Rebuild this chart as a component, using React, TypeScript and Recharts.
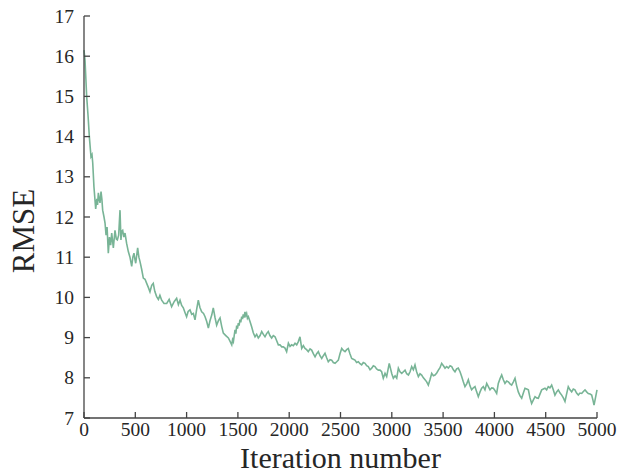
import React from 'react';
import { LineChart, Line, XAxis, YAxis } from 'recharts';

const iterations = [
  0, 10, 26, 40, 52, 68, 78, 85, 97, 114, 125, 132, 140, 148, 156, 166, 174, 182, 195, 205,
  215, 225, 237, 248, 260, 270, 286, 302, 315, 325, 338, 351, 360, 368, 377, 388, 400, 415, 432, 448,
  465, 476, 487, 496, 504, 514, 523, 535, 546, 562, 578, 595, 611, 627, 643, 660, 675, 690, 708, 725,
  740, 757, 780, 806, 830, 854, 880, 903, 920, 936, 952, 968, 985, 1000, 1015, 1033, 1050, 1066, 1082, 1098,
  1114, 1130, 1147, 1165, 1180, 1196, 1212, 1228, 1245, 1260, 1277, 1293, 1310, 1326, 1342, 1358, 1382, 1407, 1425, 1440,
  1448, 1456, 1464, 1472, 1480, 1488, 1496, 1504, 1512, 1520, 1528, 1537, 1545, 1552, 1560, 1569, 1577, 1585, 1593, 1602,
  1618, 1634, 1650, 1667, 1683, 1699, 1716, 1732, 1748, 1764,
  1780, 1796, 1812, 1829, 1845, 1862, 1878, 1894, 1910, 1927, 1943, 1959, 1975, 1992, 2008, 2024, 2040, 2057, 2073, 2089,
  2105, 2122, 2138, 2154, 2170, 2186, 2203, 2219, 2235, 2252, 2268, 2284, 2300, 2317, 2333, 2349, 2365, 2381, 2398, 2414,
  2430, 2447, 2463, 2479, 2495, 2512, 2528, 2544, 2560, 2576, 2592, 2609, 2625, 2641, 2657, 2674, 2690, 2706, 2722, 2739,
  2755, 2771, 2788, 2804, 2820, 2836, 2852, 2869, 2885, 2901, 2917, 2934, 2950, 2975, 3000, 3015, 3032, 3048, 3064, 3080,
  3097, 3113, 3129, 3145, 3162, 3178, 3194, 3210, 3226, 3242, 3259, 3275, 3291, 3308, 3324, 3340, 3356, 3372, 3389, 3405,
  3421, 3438, 3454, 3470, 3486, 3503, 3519, 3535, 3551, 3568, 3584, 3600, 3616, 3632, 3648, 3665, 3681, 3697, 3713, 3730,
  3746, 3762, 3778, 3795, 3811, 3827, 3843, 3860, 3876, 3892, 3908, 3925, 3941, 3957, 3974, 3990, 4006, 4022, 4038, 4055,
  4071, 4087, 4103, 4120, 4136, 4152, 4168, 4185, 4201, 4217, 4233, 4250, 4266, 4282, 4298, 4315, 4331, 4347, 4363, 4380,
  4396, 4412, 4428, 4445, 4461, 4477, 4493, 4509, 4525, 4541, 4558, 4574, 4590, 4607, 4623, 4640, 4656, 4672, 4688, 4704,
  4720, 4737, 4753, 4769, 4785, 4801, 4818, 4834, 4851, 4867, 4883, 4899, 4915, 4932, 4948, 4960, 4971, 4985, 5000,
];

const rmse = [
  16.15, 15.9, 15.0, 14.5, 14.0, 13.5, 13.55, 13.35, 12.75, 12.2, 12.45, 12.3, 12.6, 12.45, 12.35, 12.63, 12.45, 12.17, 12.0, 11.85,
  11.55, 11.75, 11.1, 11.5, 11.3, 11.6, 11.23, 11.67, 11.45, 11.43, 11.55, 12.17, 11.43, 11.65, 11.67, 11.5, 11.6, 11.35, 11.14, 11.0,
  10.77, 11.0, 11.1, 10.95, 10.85, 11.05, 11.23, 11.0, 10.89, 10.7, 10.48, 10.45, 10.35, 10.25, 10.14, 10.3, 10.35, 10.15, 10.02, 9.95,
  10.05, 9.93, 9.85, 9.85, 9.95, 9.77, 9.9, 9.98, 9.82, 9.93, 9.8, 9.74, 9.62, 9.52, 9.65, 9.69, 9.58, 9.6, 9.44, 9.7,
  9.93, 9.75, 9.64, 9.6, 9.52, 9.4, 9.24, 9.42, 9.56, 9.74, 9.5, 9.31, 9.42, 9.49, 9.28, 9.11, 9.05, 8.99, 8.9, 8.82,
  8.95, 8.9, 9.05, 9.19, 9.1, 9.3, 9.22, 9.36, 9.3, 9.45, 9.38, 9.52, 9.46, 9.58, 9.5, 9.64, 9.55, 9.6, 9.48, 9.52,
  9.4, 9.27, 9.12, 9.02, 9.08, 8.99, 9.05, 9.15, 9.08, 9.02,
  9.1, 9.15, 9.05, 8.99, 9.05, 9.02, 8.92, 8.82, 8.82, 8.77, 8.77, 8.74, 8.65, 8.86, 8.78, 8.82, 8.8, 8.86, 8.82, 8.9,
  9.02, 8.73, 8.8, 8.73, 8.7, 8.65, 8.72, 8.69, 8.6, 8.52, 8.6, 8.65, 8.55, 8.48, 8.55, 8.61, 8.5, 8.4, 8.45, 8.44,
  8.38, 8.36, 8.4, 8.44, 8.6, 8.73, 8.68, 8.65, 8.7, 8.73, 8.6, 8.48, 8.46, 8.44, 8.38, 8.4, 8.35, 8.32, 8.38, 8.36,
  8.3, 8.28, 8.2, 8.24, 8.3, 8.28, 8.22, 8.19, 8.19, 8.15, 7.99, 8.11, 8.03, 8.36, 8.1, 7.99, 8.05, 7.99, 8.24, 8.15,
  8.11, 8.15, 8.19, 8.1, 8.07, 8.15, 8.28, 8.2, 8.32, 8.15, 8.03, 8.1, 8.07, 8.0, 7.95, 7.9, 7.82, 7.95, 8.11, 8.05,
  8.07, 8.12, 8.19, 8.25, 8.36, 8.3, 8.24, 8.28, 8.24, 8.3, 8.28, 8.2, 8.15, 8.22, 8.24, 8.15, 8.03, 7.9, 7.78, 7.85,
  7.95, 7.8, 7.7, 7.75, 7.78, 7.65, 7.53, 7.65, 7.74, 7.78, 7.7, 7.86, 7.78, 7.7, 7.75, 7.74, 7.68, 7.61, 7.86, 7.98,
  8.07, 7.95, 7.86, 7.92, 7.9, 7.85, 7.82, 7.9, 7.99, 7.8, 7.65, 7.55, 7.49, 7.62, 7.74, 7.72, 7.7, 7.5, 7.36, 7.45,
  7.53, 7.5, 7.49, 7.6, 7.7, 7.72, 7.74, 7.7, 7.78, 7.75, 7.82, 7.7, 7.57, 7.65, 7.7, 7.62, 7.57, 7.5, 7.41, 7.6,
  7.78, 7.7, 7.65, 7.72, 7.7, 7.62, 7.57, 7.62, 7.61, 7.66, 7.7, 7.65, 7.61, 7.6, 7.57, 7.45, 7.32, 7.5, 7.7,
];

const xTicks = [0, 500, 1000, 1500, 2000, 2500, 3000, 3500, 4000, 4500, 5000];
const yTicks = [7, 8, 9, 10, 11, 12, 13, 14, 15, 16, 17];

const data = iterations.map((it, i) => ({ iter: it, rmse: rmse[i] }));

const FONT = "'Liberation Serif', 'Times New Roman', Times, serif";
const AXIS_COLOR = '#444';
const TEXT_COLOR = '#262626';
const TICK_FS = 19.5;

const XTick = (props: any) => {
  const { x, y, payload } = props;
  return (
    <text
      x={x}
      y={y}
      dy={TICK_FS * 0.71}
      textAnchor="middle"
      fill={TEXT_COLOR}
      fontFamily={FONT}
      fontSize={TICK_FS}
      style={{ fontFamily: FONT, fontSize: TICK_FS }}
    >
      {payload.value}
    </text>
  );
};

const YTick = (props: any) => {
  const { x, y, payload } = props;
  return (
    <text
      x={x}
      y={y}
      dy={TICK_FS * 0.34}
      textAnchor="end"
      fill={TEXT_COLOR}
      fontFamily={FONT}
      fontSize={TICK_FS}
      style={{ fontFamily: FONT, fontSize: TICK_FS }}
    >
      {payload.value}
    </text>
  );
};

export default function App() {
  return (
    <div style={{ position: 'absolute', left: 0, top: 0, width: 620, height: 475, background: '#fff', fontFamily: FONT }}>
      <LineChart
        width={620}
        height={475}
        data={data}
        margin={{ top: 16, right: 23, left: 0, bottom: 0 }}
      >
        <XAxis
          xAxisId="bottom"
          dataKey="iter"
          type="number"
          domain={[0, 5000]}
          ticks={xTicks}
          interval={0}
          height={57}
          tickSize={-6}
          tickMargin={10}
          stroke={AXIS_COLOR}
          strokeWidth={1.3}
          tick={<XTick />}
          label={{
            content: (props: any) => {
              const vb = props.viewBox || {};
              return (
                <text
                  x={vb.x + vb.width / 2}
                  y={468}
                  textAnchor="middle"
                  fill={TEXT_COLOR}
                  style={{ fontFamily: FONT, fontSize: 30 }}
                >
                  Iteration number
                </text>
              );
            },
          }}
        />
        <XAxis
          xAxisId="top"
          orientation="top"
          dataKey="iter"
          type="number"
          domain={[0, 5000]}
          ticks={xTicks}
          interval={0}
          height={0}
          tickSize={-6}
          tick={false}
          stroke={AXIS_COLOR}
          strokeWidth={1.3}
        />
        <YAxis
          yAxisId="left"
          type="number"
          domain={[7, 17]}
          ticks={yTicks}
          interval={0}
          width={84}
          tickSize={-6}
          tickMargin={16}
          stroke={AXIS_COLOR}
          strokeWidth={1.3}
          tick={<YTick />}
          label={{
            content: () => (
              <text
                x={23}
                y={231}
                transform="rotate(-90, 23, 231)"
                textAnchor="middle"
                dominantBaseline="central"
                fill={TEXT_COLOR}
                style={{ fontFamily: FONT, fontSize: 31 }}
              >
                RMSE
              </text>
            ),
          }}
        />
        <YAxis
          yAxisId="right"
          orientation="right"
          type="number"
          domain={[7, 17]}
          ticks={yTicks}
          interval={0}
          width={0}
          tickSize={-6}
          tick={false}
          stroke={AXIS_COLOR}
          strokeWidth={1.3}
        />
        <Line
          xAxisId="bottom"
          yAxisId="left"
          type="linear"
          dataKey="rmse"
          stroke="#78b496"
          strokeWidth={1.6}
          dot={false}
          isAnimationActive={false}
        />
      </LineChart>
    </div>
  );
}
